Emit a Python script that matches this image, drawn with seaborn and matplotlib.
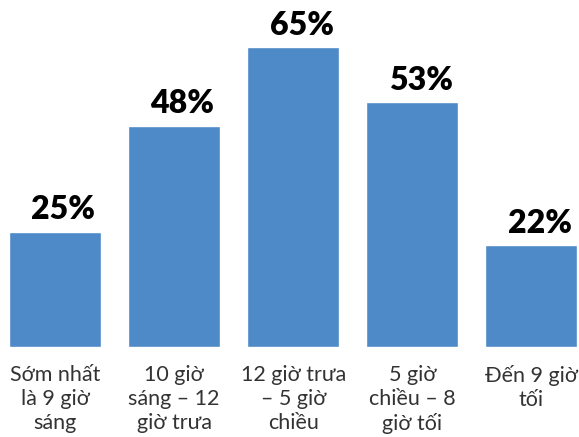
import matplotlib
matplotlib.use("Agg")
import matplotlib.pyplot as plt
import seaborn as sns
import pandas as pd

categories = ["Sớm nhất\nlà 9 giờ\nsáng", "10 giờ\nsáng – 12\ngiờ trưa",
              "12 giờ trưa\n– 5 giờ\nchiều", "5 giờ\nchiều – 8\ngiờ tối",
              "Đến 9 giờ\ntối"]
values = [25, 48, 65, 53, 22]
value_labels = ["25%", "48%", "65%", "53%", "22%"]

sns.set_theme(style="white")
plt.rcParams['font.family'] = ['Lato', 'Open Sans', 'DejaVu Sans']

df = pd.DataFrame({"cat": categories, "val": values})
fig = plt.figure(figsize=(5.79, 4.37), dpi=100)
ax = fig.add_axes([0, 90/437, 1, 1 - 90/437])
sns.barplot(data=df, x="cat", y="val", order=categories, color="#4E8AC8",
            width=0.773, saturation=1, ax=ax)
ax.set_xlim(-0.462, 4.40)
ax.set_ylim(0, 75.2)
for i, (v, lab) in enumerate(zip(values, value_labels)):
    ax.annotate(lab, xy=(i, v), xytext=(6, 9), textcoords="offset points",
                ha="center", va="baseline", fontsize=23, fontweight="heavy",
                color="black")
ax.set_xlabel("")
ax.set_ylabel("")
ax.set_yticks([])
ax.set_xticks(range(len(categories)))
ax.set_xticklabels(categories, fontsize=15.5, color="#333333", linespacing=1.25,
                   va="top")
ax.tick_params(axis="x", length=0, pad=13)
for s in ax.spines.values():
    s.set_visible(False)
fig.savefig("out.png", dpi=100)
